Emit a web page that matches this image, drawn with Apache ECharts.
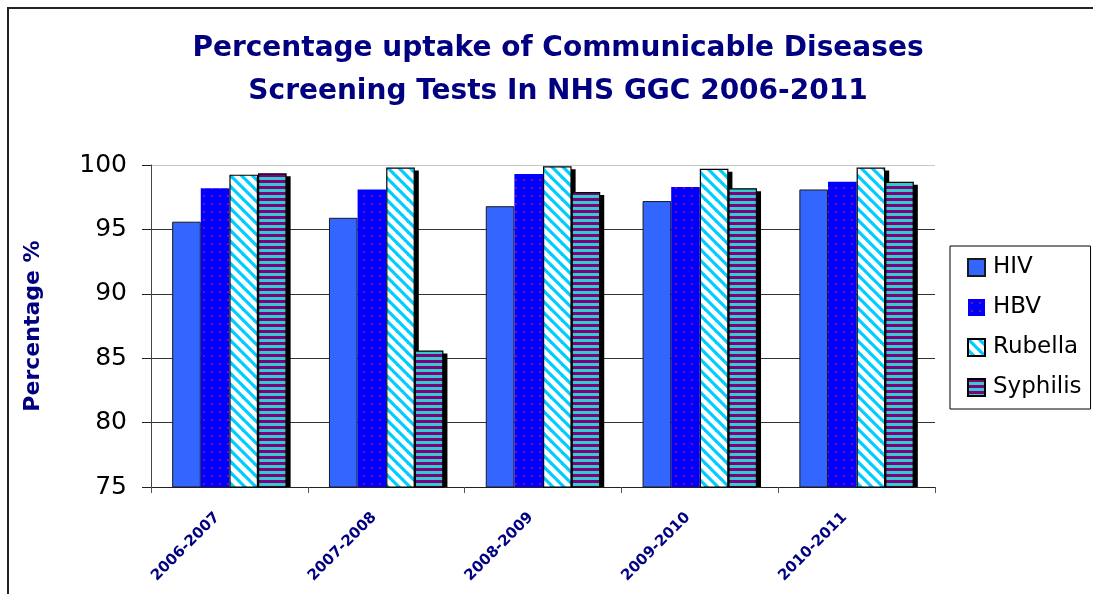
<!DOCTYPE html>
<html>
<head>
<meta charset="utf-8">
<script src="https://cdn.jsdelivr.net/npm/echarts@6/dist/echarts.min.js"></script>
<style>
html,body{margin:0;padding:0;background:#fff;}
#chart{width:1093px;height:594px;}
</style>
</head>
<body>
<div id="chart"></div>
<script>
// ---- data ----
var categories = ['2006-2007', '2007-2008', '2008-2009', '2009-2010', '2010-2011'];
var hiv      = [95.6, 95.9, 96.8, 97.2, 98.1];
var hbv      = [98.2, 98.1, 99.3, 98.3, 98.7];
var rubella  = [99.25, 99.8, 99.9, 99.7, 99.8];
var syphilis = [99.35, 85.6, 97.9, 98.2, 98.7];
var seriesNames = ['HIV', 'HBV', 'Rubella', 'Syphilis'];
var yTicks = [75, 80, 85, 90, 95, 100];

// ---- patterns ----
function tile(w, h, draw) {
  var c = document.createElement('canvas');
  c.width = w; c.height = h;
  draw(c.getContext('2d'), w, h);
  return c;
}
var hbvTile = tile(8, 8, function (ctx, w, h) {
  ctx.fillStyle = '#0000FF'; ctx.fillRect(0, 0, w, h);
  ctx.fillStyle = '#8A0A8A'; ctx.fillRect(3, 3, 2, 2);
});
var rubTile = tile(11, 11, function (ctx, w, h) {
  ctx.fillStyle = '#FFFFFF'; ctx.fillRect(0, 0, w, h);
  ctx.strokeStyle = '#00CCFF'; ctx.lineWidth = 3.2;
  for (var x0 = -11; x0 <= 11; x0 += 11) {
    ctx.beginPath(); ctx.moveTo(x0 - 2, -2); ctx.lineTo(x0 + 13, 13); ctx.stroke();
  }
});
var syphTile = tile(4, 6, function (ctx, w, h) {
  ctx.fillStyle = '#800080'; ctx.fillRect(0, 0, w, 3);
  ctx.fillStyle = '#33CCCC'; ctx.fillRect(0, 3, w, 3);
});

var navy = '#000080';
var FONT = '"DejaVu Sans", sans-serif';
var GAP = 0.27;

function bar(name, data, itemStyle) {
  return {
    name: name, type: 'bar', data: data, z: 3,
    barGap: '0%', barCategoryGap: (GAP * 100) + '%',
    itemStyle: itemStyle
  };
}

// drop shadow behind a bar, positioned through the axis scales
function shadowSeries(name, values, k) {
  return {
    name: name + ' shadow', type: 'custom', z: 2, silent: true,
    encode: { x: 0, y: 1 },
    data: values.map(function (v, i) { return [i, v]; }),
    renderItem: function (params, api) {
      var top = api.coord([api.value(0), api.value(1)]);
      var base = api.coord([api.value(0), yTicks[0]]);
      var catW = api.size([1, 0])[0];
      var groupW = catW * (1 - GAP);
      var bw = groupW / 4;
      var x = top[0] - groupW / 2 + k * bw;
      return {
        type: 'rect',
        shape: { x: x + 4, y: top[1] + 3, width: bw, height: base[1] - top[1] - 3 },
        style: { fill: '#000' }
      };
    }
  };
}

var chart = echarts.init(document.getElementById('chart'), null, { renderer: 'canvas' });
chart.setOption({
  animation: false,
  backgroundColor: '#fff',
  textStyle: { fontFamily: FONT },
  title: {
    text: 'Percentage uptake of Communicable Diseases\nScreening Tests In NHS GGC 2006-2011',
    left: 553, top: 22, textAlign: 'center',
    textStyle: { fontFamily: FONT, fontSize: 28, fontWeight: 'bold', color: navy, lineHeight: 43 }
  },
  legend: {
    orient: 'vertical',
    left: 950, top: 246,
    padding: [10, 9, 10, 17],
    itemGap: 17,
    itemWidth: 17, itemHeight: 17,
    icon: 'rect',
    borderColor: '#000', borderWidth: 1,
    textStyle: { fontFamily: FONT, fontSize: 23, color: '#000', padding: [0, 0, 0, 3] },
    data: seriesNames
  },
  grid: { left: 151, right: 158, top: 165, bottom: 107 },
  xAxis: {
    type: 'category',
    data: categories,
    axisLine: { lineStyle: { color: '#222', width: 1 } },
    axisTick: { show: true, alignWithLabel: false, length: 6, lineStyle: { color: '#555' } },
    axisLabel: {
      rotate: 45, margin: 16, interval: 0, padding: [0, 17, 0, 0],
      fontFamily: FONT, fontSize: 15, fontWeight: 'bold', color: navy
    },
    splitLine: { show: false }
  },
  yAxis: {
    type: 'value',
    min: yTicks[0], max: yTicks[yTicks.length - 1], interval: 5,
    name: 'Percentage %',
    nameLocation: 'middle', nameRotate: 90, nameGap: 107,
    nameTextStyle: { fontFamily: FONT, fontSize: 22, fontWeight: 'bold', color: navy },
    axisLine: { show: true, lineStyle: { color: '#444', width: 1 } },
    axisTick: { show: true, length: 9, lineStyle: { color: '#222' } },
    axisLabel: { margin: 24, fontFamily: FONT, fontSize: 25, color: '#000' },
    splitLine: { show: true, lineStyle: { color: ['#333', '#333', '#333', '#333', '#333', '#c8c8c8'], width: 1 } }
  },
  series: [
    shadowSeries('Rubella', rubella, 2),
    shadowSeries('Syphilis', syphilis, 3),
    bar('HIV', hiv, { color: '#3366FF', borderColor: '#1a1a1a', borderWidth: 1 }),
    bar('HBV', hbv, { color: { image: hbvTile, repeat: 'repeat' }, borderColor: '#0000FF', borderWidth: 0 }),
    bar('Rubella', rubella, { color: { image: rubTile, repeat: 'repeat' }, borderColor: '#000', borderWidth: 1.2 }),
    bar('Syphilis', syphilis, { color: { image: syphTile, repeat: 'repeat' }, borderColor: '#000', borderWidth: 1.2 })
  ],
  graphic: [{
    type: 'rect', silent: true, z: -1,
    shape: { x: 8, y: 8, width: 1300, height: 800 },
    style: { fill: 'none', stroke: '#222', lineWidth: 2 }
  }]
});
</script>
</body>
</html>
